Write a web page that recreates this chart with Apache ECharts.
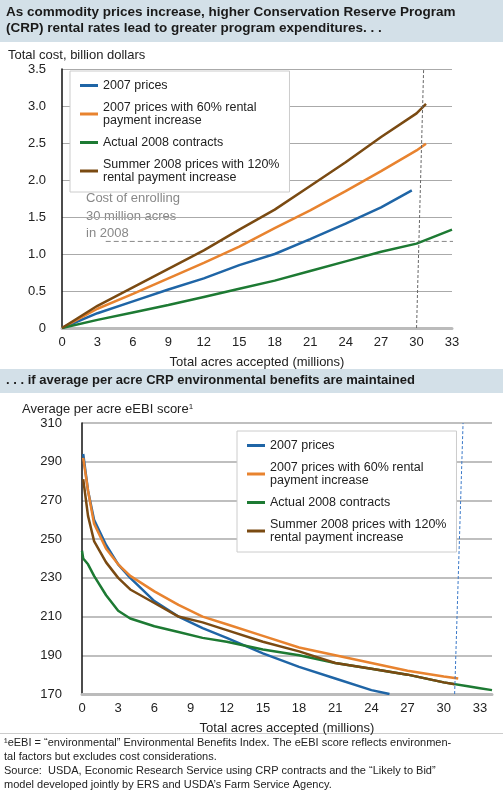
<!DOCTYPE html>
<html><head><meta charset="utf-8">
<script src="https://cdn.jsdelivr.net/npm/echarts@6/dist/echarts.min.js"></script>
<style>body{margin:0;background:#fff}#c{width:503px;height:810px}</style>
</head><body><div id="c"></div>
<script>
const names = ['2007 prices', '2007 prices with 60% rental\npayment increase', 'Actual 2008 contracts', 'Summer 2008 prices with 120%\nrental payment increase'];
const colors = ['#1f65a6', '#e8832f', '#1d7a33', '#7a4a12'];

// panel 1: total cost (billion dollars) vs acres (millions)
const cost2007 = [[0,0],[3,0.2],[6,0.36],[9,0.52],[12,0.67],[15,0.85],[18,1.0],[21,1.2],[24,1.41],[27,1.63],[29.6,1.86]];
const cost60 = [[0,0],[3,0.26],[6,0.46],[9,0.67],[12,0.88],[15,1.1],[18,1.35],[21,1.59],[24,1.85],[27,2.12],[30,2.4],[30.8,2.49]];
const costActual = [[0,0],[3,0.11],[6,0.21],[9,0.31],[12,0.42],[15,0.53],[18,0.64],[21,0.77],[24,0.9],[27,1.03],[30,1.14],[33,1.33]];
const cost120 = [[0,0],[3,0.3],[6,0.55],[9,0.8],[12,1.05],[15,1.33],[18,1.6],[21,1.92],[24,2.24],[27,2.58],[30,2.9],[30.8,3.03]];
const costRefH = [[3.7,1.17],[35,1.17]];
const costRefV = [[30,0],[30.6,3.5]];

// panel 2: eEBI score
const ebi2007 = [[0.1,294],[0.5,275],[1,260],[2,247],[3,237],[4,230],[6,218],[8,210],[10,204],[12,199],[15,191],[18,184],[21,178],[24,172],[25.5,170]];
const ebi60 = [[0.1,292],[0.5,275],[1,258],[2,245],[3,237],[4,231],[6,223],[8,216],[10,210],[12,206],[15,200],[18,194],[21,190],[24,186],[27,182],[30,179],[31.2,178]];
const ebiActual = [[0,244],[0.1,240],[0.5,237],[1,231],[2,221],[3,213],[4,209],[6,205],[8,202],[10,199],[12,197],[15,193],[18,190],[21,186],[24,183],[27,180],[30,176],[32,174],[33,173],[34,172]];
const ebi120 = [[0.1,281],[0.5,262],[1,249],[2,238],[3,230],[4,224],[6,217],[8,210],[10,207],[12,203],[15,197],[18,192],[21,186],[24,183],[27,180],[30,176],[30.9,175]];
const ebiRefV = [[30.9,170],[31.6,310]];

const font = 'Liberation Sans, Arial, sans-serif';
const chart = echarts.init(document.getElementById('c'));

function xAx(idx, max) {
  return {
    type: 'value', gridIndex: idx, min: 0, max: max, interval: 3,
    axisLine: {lineStyle: {color: '#bbb', width: 3}}, axisTick: {show: false},
    splitLine: {show: false},
    axisLabel: {color: '#222', fontSize: 13, fontFamily: font, formatter: v => v % 3 === 0 && v <= 33 ? v : ''},
    name: 'Total acres accepted (millions)', nameLocation: 'middle', nameGap: 28,
    nameTextStyle: {color: '#222', fontSize: 13, fontFamily: font}
  };
}
function line(name, data, color, xi, yi) {
  return {name: name, type: 'line', data: data, xAxisIndex: xi, yAxisIndex: yi,
    showSymbol: false, lineStyle: {color: color, width: 2.5}, itemStyle: {color: color}};
}
function legend(left, top) {
  return {
    left: left, top: top, orient: 'vertical', itemGap: 9, itemWidth: 18, itemHeight: 3,
    backgroundColor: '#fff', borderColor: '#ccc', borderWidth: 1, padding: [8, 10],
    textStyle: {color: '#222', fontSize: 12.5, fontFamily: font, lineHeight: 13},
    icon: 'rect', data: names
  };
}

chart.setOption({
  animation: false,
  graphic: [
    {type: 'rect', shape: {x: 0, y: 0, width: 503, height: 42}, style: {fill: '#d3e0e8'}},
    {type: 'text', left: 6, top: 4, style: {text: 'As commodity prices increase, higher Conservation Reserve Program\n(CRP) rental rates lead to greater program expenditures. . .', font: 'bold 13.5px ' + font, fill: '#1a1a1a', lineHeight: 16}},
    {type: 'text', left: 8, top: 49, style: {text: 'Total cost, billion dollars', font: '13px ' + font, fill: '#222'}},
    {type: 'text', left: 86, top: 190, style: {text: 'Cost of enrolling\n30 million acres\nin 2008', font: '13px ' + font, fill: '#888', lineHeight: 17.5, backgroundColor: '#fff'}},
    {type: 'rect', shape: {x: 0, y: 369, width: 503, height: 24}, style: {fill: '#d3e0e8'}},
    {type: 'text', left: 6, top: 374, style: {text: '. . . if average per acre CRP environmental benefits are maintained', font: 'bold 13px ' + font, fill: '#1a1a1a'}},
    {type: 'text', left: 22, top: 403, style: {rich: {a: {font: '13px ' + font, fill: '#222'}, s: {font: '8px ' + font, fill: '#222', verticalAlign: 'top'}}, text: '{a|Average per acre eEBI score}{s|1}'}},
    {type: 'rect', shape: {x: 0, y: 733, width: 503, height: 1}, style: {fill: '#ccc'}},
    {type: 'text', left: 4, top: 736, style: {text: '¹eEBI = “environmental” Environmental Benefits Index. The eEBI score reflects environmen-\ntal factors but excludes cost considerations.\nSource:  USDA, Economic Research Service using CRP contracts and the “Likely to Bid”\nmodel developed jointly by ERS and USDA’s Farm Service Agency.', font: '11px ' + font, fill: '#222', lineHeight: 14}}
  ],
  grid: [
    {left: 62, right: 51, top: 69, height: 259},
    {left: 82, right: 11, top: 423, height: 271}
  ],
  legend: [legend(70, 71), legend(237, 431)],
  xAxis: [xAx(0, 33), xAx(1, 34)],
  yAxis: [
    {type: 'value', gridIndex: 0, min: 0, max: 3.5, interval: 0.5,
      axisLine: {show: true, lineStyle: {color: '#111', width: 1.5}}, axisTick: {show: false},
      splitLine: {lineStyle: {color: '#aaa'}},
      axisLabel: {color: '#222', fontSize: 13, fontFamily: font, margin: 16, formatter: v => v === 0 ? '0' : v.toFixed(1)}},
    {type: 'value', gridIndex: 1, min: 170, max: 310, interval: 20,
      axisLine: {show: true, lineStyle: {color: '#111', width: 1.5}}, axisTick: {show: false},
      splitLine: {lineStyle: {color: '#aaa', width: 1.5}},
      axisLabel: {color: '#222', fontSize: 13, fontFamily: font, margin: 20}}
  ],
  series: [
    line(names[0], cost2007, colors[0], 0, 0),
    line(names[1], cost60, colors[1], 0, 0),
    line(names[2], costActual, colors[2], 0, 0),
    line(names[3], cost120, colors[3], 0, 0),
    {type: 'line', data: costRefH, xAxisIndex: 0, yAxisIndex: 0, showSymbol: false, clip: false, silent: true, z: 1,
      lineStyle: {color: '#888', width: 1, type: [5, 3]}},
    {type: 'line', data: costRefV, xAxisIndex: 0, yAxisIndex: 0, showSymbol: false, silent: true,
      lineStyle: {color: '#666', width: 1, type: [3, 2]}},
    line(names[0], ebi2007, colors[0], 1, 1),
    line(names[1], ebi60, colors[1], 1, 1),
    line(names[2], ebiActual, colors[2], 1, 1),
    line(names[3], ebi120, colors[3], 1, 1),
    {type: 'line', data: ebiRefV, xAxisIndex: 1, yAxisIndex: 1, showSymbol: false, silent: true,
      lineStyle: {color: '#3a78c8', width: 1, type: [3, 2]}}
  ]
});
</script></body></html>
